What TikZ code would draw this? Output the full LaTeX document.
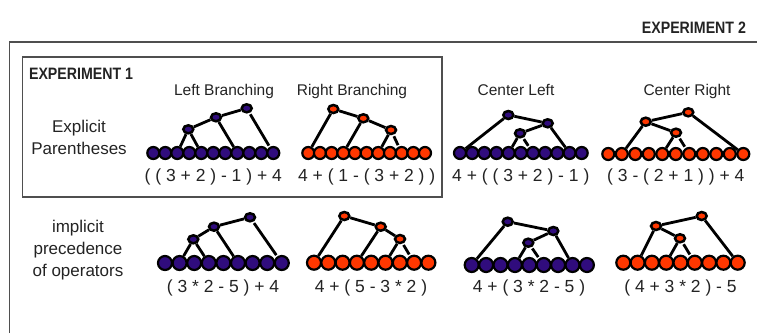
\documentclass[tikz,border=0pt]{standalone}
\usepackage{fontspec}
\setmainfont{Liberation Sans}
\usetikzlibrary{shapes.geometric}
\definecolor{leafblue}{RGB}{48,12,125}
\definecolor{leafred}{RGB}{255,55,0}
\definecolor{ink}{RGB}{35,35,35}

\begin{document}
\begin{tikzpicture}[x=1pt,y=-1pt,
  leaf/.style={circle,draw=black,line width=2.2,inner sep=0,minimum size=12},
  bigleaf/.style={leaf,minimum size=14},
  knot/.style={ellipse,draw=black,line width=2.5,inner sep=0,minimum width=10,minimum height=8},
  branch/.style={line width=2.8,shorten <=1.5,shorten >=1.5},
  expr/.style={anchor=base,text=ink,font=\fontsize{17.5}{20}\selectfont},
  head/.style={anchor=base,text=ink,font=\fontsize{15.5}{18}\selectfont},
  title/.style={anchor=base,text=ink,xscale=0.86,font=\bfseries\fontsize{16.5}{18}\selectfont},
  rowlabel/.style={align=center,text=ink,font=\fontsize{17}{22}\selectfont}]
\useasboundingbox (0,0) rectangle (757,333);

% frames
\draw[ink!80,line width=1.4] (9.3,333) -- (9.3,42) -- (757,42);
\draw[ink!80,line width=1.2] (22.7,57) rectangle (442,197);
\node[title,anchor=base east] (exptwo) at (749,33) {EXPERIMENT 2};
\node[title,anchor=base west] (expone) at (26,79) {EXPERIMENT 1};

% headings
\node[head] (hlb) at (224,95) {Left Branching};
\node[head] (hrb) at (352,95) {Right Branching};
\node[head] (hcl) at (516,95) {Center Left};
\node[head] (hcr) at (687,95) {Center Right};
\node[rowlabel] (rowexp) at (79,137) {Explicit\\Parentheses};
\node[rowlabel] (rowimp) at (78,250) {implicit\\precedence\\of operators};

% explicit parentheses
\foreach \i in {1,...,11} \node[leaf,fill=leafblue] (lb\i) at ({153.3+12*(\i-1)},153) {};
\node[knot,fill=leafblue] (lbA) at (188.3,129.3) {};
\node[knot,fill=leafblue] (lbB) at (216,117.3) {};
\node[knot,fill=leafblue] (lbC) at (246.7,108.3) {};
\draw[branch] (lbA) -- (lb3) (lbA) -- (lb5) (lbA) -- (lbB) (lbB) -- (lb8)
  (lbB) -- (lbC) (lbC) -- (lb11);
\node[expr] (lbexpr) at (213.3,181) {( ( 3 + 2 ) - 1 ) + 4};

\foreach \i in {1,...,11} \node[leaf,fill=leafred] (rb\i) at ({308.3+11.67*(\i-1)},153) {};
\node[knot,fill=leafred] (rbA) at (333.3,109) {};
\node[knot,fill=leafred] (rbB) at (363.3,118.3) {};
\node[knot,fill=leafred] (rbC) at (391,130) {};
\draw[branch] (rbA) -- (rb1) (rbA) -- (rbB) (rbB) -- (rb4) (rbB) -- (rbC)
  (rbC) -- (rb7) (rbC) -- (rb9);
\node[expr] (rbexpr) at (366.7,181) {4 + ( 1 - ( 3 + 2 ) )};

\foreach \i in {1,...,11} \node[leaf,fill=leafblue] (cl\i) at ({460+12.17*(\i-1)},153) {};
\node[knot,fill=leafblue] (clA) at (508.3,115) {};
\node[knot,fill=leafblue] (clB) at (547.7,123.3) {};
\node[knot,fill=leafblue] (clC) at (520,133.3) {};
\draw[branch] (clA) -- (cl1) (clA) -- (clB) (clB) -- (clC) (clB) -- (cl10)
  (clC) -- (cl5) (clC) -- (cl7);
\node[expr] (clexpr) at (520.8,181) {4 + ( ( 3 + 2 ) - 1 )};

\foreach \i in {1,...,11} \node[leaf,fill=leafred] (cr\i) at ({608.3+13.5*(\i-1)},154) {};
\node[knot,fill=leafred] (crA) at (645.7,121.7) {};
\node[knot,fill=leafred] (crB) at (688.3,112.3) {};
\node[knot,fill=leafred] (crC) at (676,132.7) {};
\draw[branch] (crB) -- (crA) (crB) -- (cr11) (crA) -- (cr2) (crA) -- (crC)
  (crC) -- (cr5) (crC) -- (cr7);
\node[expr] (crexpr) at (675.8,181) {( 3 - ( 2 + 1 ) ) + 4};

% implicit precedence
\foreach \i in {1,...,9} \node[bigleaf,fill=leafblue] (ilb\i) at ({165+14.6*(\i-1)},263) {};
\node[knot,fill=leafblue] (ilbA) at (193.3,239.3) {};
\node[knot,fill=leafblue] (ilbB) at (214,226.7) {};
\node[knot,fill=leafblue] (ilbC) at (250,217.3) {};
\draw[branch] (ilbA) -- (ilb2) (ilbA) -- (ilb4) (ilbA) -- (ilbB) (ilbB) -- (ilb6)
  (ilbB) -- (ilbC) (ilbC) -- (ilb9);
\node[expr] (ilbexpr) at (223,292) {( 3 * 2 - 5 ) + 4};

\foreach \i in {1,...,9} \node[bigleaf,fill=leafred] (irb\i) at ({314+14.3*(\i-1)},262.7) {};
\node[knot,fill=leafred] (irbA) at (344.3,216) {};
\node[knot,fill=leafred] (irbB) at (380.7,226.7) {};
\node[knot,fill=leafred] (irbC) at (400,239) {};
\draw[branch] (irbA) -- (irb1) (irbA) -- (irbB) (irbB) -- (irb4) (irbB) -- (irbC)
  (irbC) -- (irb6) (irbC) -- (irb8);
\node[expr] (irbexpr) at (371,292) {4 + ( 5 - 3 * 2 )};

\foreach \i in {1,...,9} \node[bigleaf,fill=leafblue] (icl\i) at ({471.7+14.4*(\i-1)},265) {};
\node[knot,fill=leafblue] (iclA) at (507.7,221.7) {};
\node[knot,fill=leafblue] (iclB) at (553.3,231) {};
\node[knot,fill=leafblue] (iclC) at (528.3,242.7) {};
\draw[branch] (iclA) -- (icl1) (iclA) -- (iclB) (iclB) -- (iclC) (iclB) -- (icl8)
  (iclC) -- (icl4) (iclC) -- (icl6);
\node[expr] (iclexpr) at (529,292) {4 + ( 3 * 2 - 5 )};

\foreach \i in {1,...,9} \node[bigleaf,fill=leafred] (icr\i) at ({623.3+14.3*(\i-1)},262.7) {};
\node[knot,fill=leafred] (icrA) at (656,226) {};
\node[knot,fill=leafred] (icrB) at (701.7,216) {};
\node[knot,fill=leafred] (icrC) at (680,238.3) {};
\draw[branch] (icrB) -- (icrA) (icrB) -- (icr9) (icrA) -- (icr2) (icrA) -- (icrC)
  (icrC) -- (icr4) (icrC) -- (icr6);
\node[expr] (icrexpr) at (680.5,292) {( 4 + 3 * 2 ) - 5};
\end{tikzpicture}
\end{document}
